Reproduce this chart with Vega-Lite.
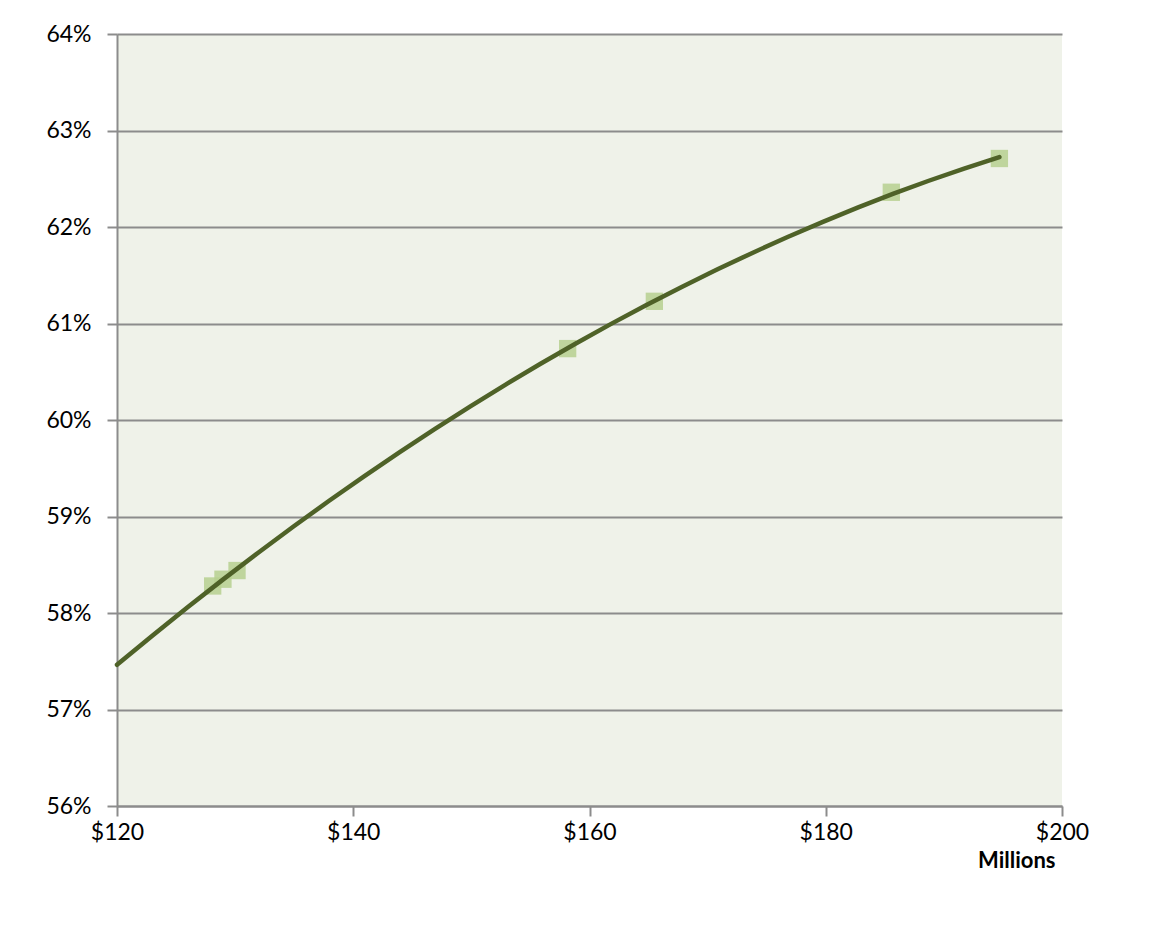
{
  "$schema": "https://vega.github.io/schema/vega-lite/v6.json",
  "width": 945,
  "height": 772,
  "autosize": {"type": "none"},
  "padding": {"left": 117, "top": 34, "right": 99, "bottom": 120},
  "background": "#ffffff",
  "config": {
    "view": {"fill": "#EFF2E9", "stroke": null},
    "font": "Lato",
    "axis": {
      "labelFont": "Lato",
      "labelFontSize": 23,
      "labelColor": "#000000",
      "labelFlush": false,
      "labelOverlap": false,
      "domainColor": "#8C8C8C",
      "domainWidth": 2,
      "tickColor": "#8C8C8C",
      "tickWidth": 2,
      "tickSize": 10,
      "gridColor": "#8C8C8C",
      "gridWidth": 2
    }
  },
  "data": {
    "values": [
      {"revenue": 128.1, "share": 0.5828},
      {"revenue": 128.97, "share": 0.5835},
      {"revenue": 130.16, "share": 0.5844},
      {"revenue": 158.15, "share": 0.6074},
      {"revenue": 165.49, "share": 0.6123},
      {"revenue": 185.55, "share": 0.6236},
      {"revenue": 194.7, "share": 0.6271}
    ]
  },
  "layer": [
    {
      "mark": {"type": "square", "size": 300, "color": "#B6D08F", "opacity": 0.85, "filled": true},
      "encoding": {
        "x": {
          "field": "revenue",
          "type": "quantitative",
          "scale": {"domain": [120, 200], "nice": false, "zero": false},
          "axis": {
            "values": [120, 140, 160, 180, 200],
            "format": "$d",
            "grid": false,
            "labelPadding": 5,
            "title": "Millions",
            "titleFont": "Lato",
            "titleFontSize": 22,
            "titleFontWeight": "bold",
            "titleColor": "#000000",
            "titleAnchor": "end",
            "titleAlign": "right",
            "titleX": 938,
            "titlePadding": 6
          }
        },
        "y": {
          "field": "share",
          "type": "quantitative",
          "scale": {"domain": [0.56, 0.64], "nice": false, "zero": false},
          "axis": {
            "values": [0.56, 0.57, 0.58, 0.59, 0.6, 0.61, 0.62, 0.63, 0.64],
            "format": ".0%",
            "grid": true,
            "labelPadding": 16,
            "title": null
          }
        }
      }
    },
    {
      "transform": [
        {"regression": "share", "on": "revenue", "method": "poly", "order": 2, "extent": [120, 194.7]}
      ],
      "mark": {"type": "line", "color": "#4F6228", "strokeWidth": 4.5, "strokeCap": "round"},
      "encoding": {
        "x": {"field": "revenue", "type": "quantitative"},
        "y": {"field": "share", "type": "quantitative"}
      }
    }
  ]
}
